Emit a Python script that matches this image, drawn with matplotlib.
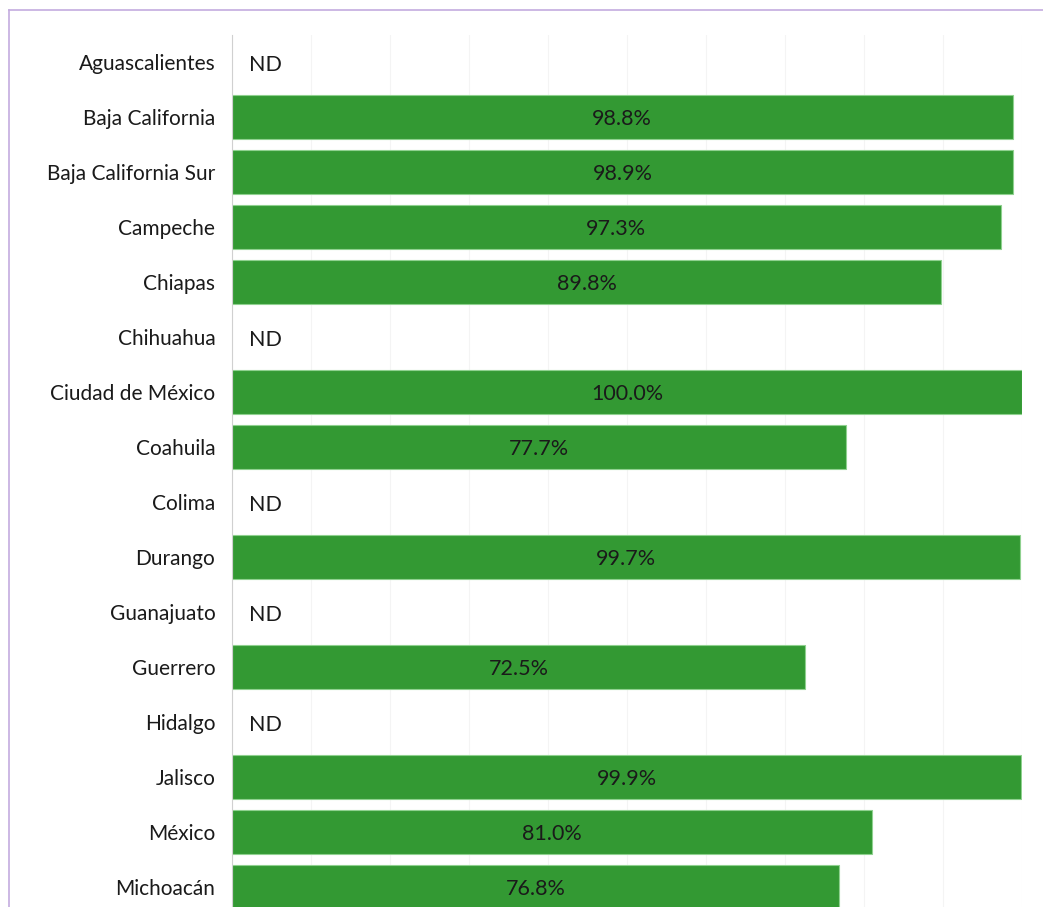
import matplotlib
matplotlib.use("Agg")
import matplotlib.pyplot as plt
from matplotlib.lines import Line2D
import numpy as np

GREEN, EDGE, INK = "#339933", "#8fd18f", "#1a1a1a"
FRAME = "#c3acdf"
plt.rcParams["font.family"] = ["Lato", "DejaVu Sans"]

states = ["Aguascalientes", "Baja California", "Baja California Sur", "Campeche",
          "Chiapas", "Chihuahua", "Ciudad de México", "Coahuila", "Colima",
          "Durango", "Guanajuato", "Guerrero", "Hidalgo", "Jalisco", "México",
          "Michoacán"]
# None = no data (ND)
values = [None, 98.8, 98.9, 97.3, 89.8, None, 100.0, 77.7, None,
          99.7, None, 72.5, None, 99.9, 81.0, 76.8]

W, H = 1043, 907
fig = plt.figure(figsize=(W / 100, H / 100), dpi=100)
ax = fig.add_axes([232 / W, 0, (1022 - 232) / W, (907 - 35) / H])

y = np.arange(len(states))
for i, v in enumerate(values):
    if v is None:
        ax.text(2.2, i + 0.05, "ND", va="center", ha="left", fontsize=15.5, color=INK)
    else:
        ax.barh(i, v, height=0.8, color=GREEN, edgecolor=EDGE, linewidth=0.8, zorder=2)
        ax.text(v / 2, i + 0.03, f"{v:.1f}%", va="center", ha="center",
                fontsize=15.5, color=INK, zorder=3)

ax.set_xlim(0, 100)
ax.set_ylim(15.36, -0.5)
ax.set_yticks(y)
ax.set_yticklabels(states, fontsize=15, color=INK)
ax.tick_params(axis="y", length=0, pad=12)
ax.set_xticks(np.arange(0, 101, 10))
ax.tick_params(axis="x", length=0, labelbottom=False)
ax.grid(axis="x", color="#f4f4f4", linewidth=0.8, zorder=0)
ax.set_axisbelow(True)
for s in ["top", "right", "bottom"]:
    ax.spines[s].set_visible(False)
ax.spines["left"].set_color("#d0d0d0")
ax.spines["left"].set_linewidth(0.8)

# purple frame around the chart card
fig.add_artist(Line2D([9 / W, 9 / W], [0, 1 - 10 / H], color=FRAME, lw=1.2,
                      transform=fig.transFigure))
fig.add_artist(Line2D([9 / W, 1], [1 - 10 / H, 1 - 10 / H], color=FRAME, lw=1.2,
                      transform=fig.transFigure))

fig.savefig("out.png", dpi=100, facecolor="white")
